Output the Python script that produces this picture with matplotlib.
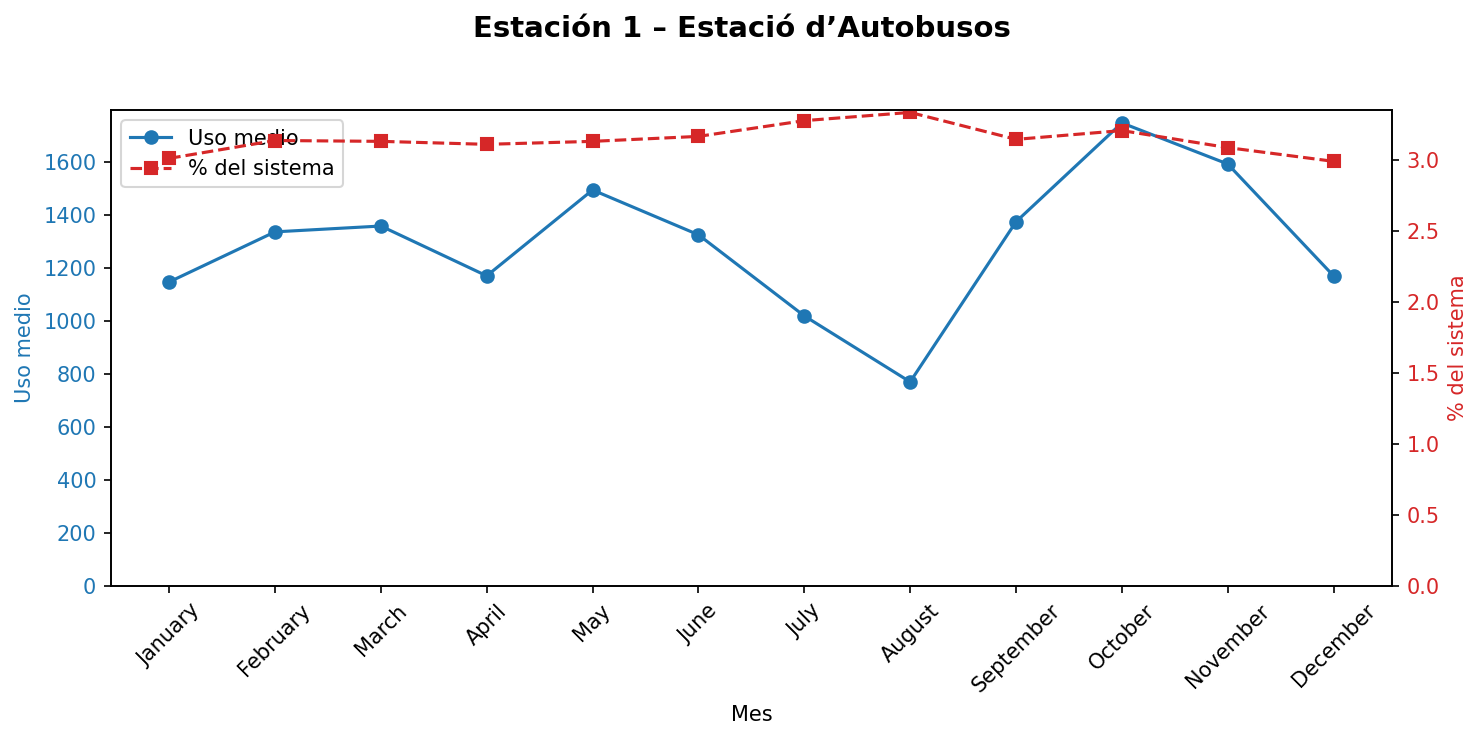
import matplotlib
matplotlib.use("Agg")
import matplotlib.pyplot as plt

meses = ["January", "February", "March", "April", "May", "June", "July",
         "August", "September", "October", "November", "December"]
uso_medio = [1147, 1336, 1358, 1170, 1494, 1325, 1019, 770, 1374, 1747, 1592, 1170]
pct_sistema = [3.014, 3.14, 3.134, 3.113, 3.134, 3.169, 3.28, 3.338, 3.148, 3.21, 3.09, 2.993]

fig, ax1 = plt.subplots(figsize=(1483 / 150, 740 / 150), dpi=150)
fig.subplots_adjust(left=0.0748, right=0.9385, top=0.8514, bottom=0.2081)

l1, = ax1.plot(meses, uso_medio, marker="o", color="tab:blue", label="Uso medio")
ax1.set_ylim(bottom=0)
ax1.set_xlabel("Mes")
ax1.set_ylabel("Uso medio", color="tab:blue")
ax1.tick_params(axis="y", labelcolor="tab:blue")
ax1.tick_params(axis="x", rotation=45)

ax2 = ax1.twinx()
l2, = ax2.plot(meses, pct_sistema, marker="s", linestyle="--", color="tab:red",
               label="% del sistema")
ax2.set_ylim(bottom=0)
ax2.set_ylabel("% del sistema", color="tab:red")
ax2.tick_params(axis="y", labelcolor="tab:red")

ax1.legend([l1, l2], [l1.get_label(), l2.get_label()], loc="upper left")
fig.suptitle("Estación 1 – Estació d’Autobusos", fontsize=14, fontweight="bold", y=0.98)

fig.savefig("out.png", dpi=150)
